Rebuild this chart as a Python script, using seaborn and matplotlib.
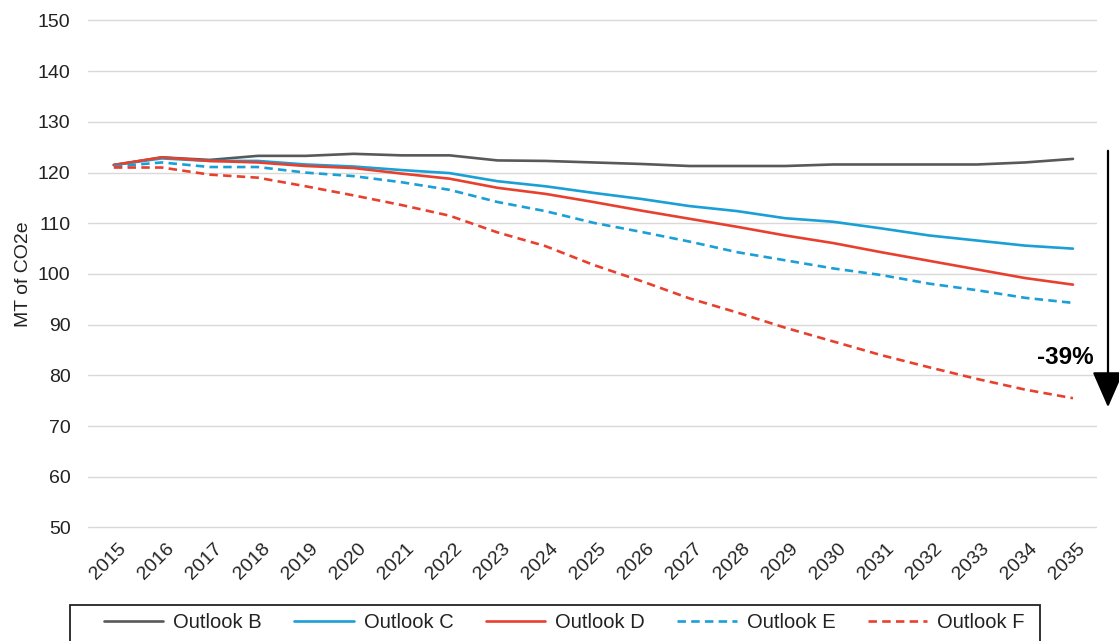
import matplotlib
matplotlib.use("Agg")
import matplotlib.pyplot as plt
import matplotlib.transforms as mtransforms
from matplotlib.patches import Rectangle, FancyArrowPatch
import seaborn as sns
import pandas as pd

years = list(range(2015, 2036))

outlook_b = [121.5, 123.0, 122.5, 123.3, 123.3, 123.7, 123.4, 123.4, 122.4, 122.3, 122.0,
             121.7, 121.3, 121.3, 121.3, 121.6, 121.6, 121.6, 121.6, 122.0, 122.7]
outlook_c = [121.5, 122.8, 122.3, 122.3, 121.6, 121.2, 120.5, 119.9, 118.3, 117.3, 116.0,
             114.8, 113.4, 112.4, 111.0, 110.3, 109.0, 107.6, 106.6, 105.6, 105.0]
outlook_d = [121.5, 123.0, 122.3, 122.0, 121.3, 120.9, 119.8, 118.8, 117.0, 115.8, 114.2,
             112.5, 110.9, 109.3, 107.6, 106.1, 104.3, 102.6, 100.9, 99.2, 97.9]
outlook_e = [121.2, 122.0, 121.1, 121.1, 120.0, 119.3, 118.1, 116.6, 114.2, 112.4, 110.1,
             108.3, 106.4, 104.3, 102.7, 101.1, 99.8, 98.1, 96.8, 95.3, 94.3]
outlook_f = [121.0, 121.0, 119.6, 119.0, 117.3, 115.5, 113.6, 111.5, 108.2, 105.5, 101.8,
             98.6, 95.2, 92.4, 89.4, 86.7, 84.0, 81.6, 79.3, 77.2, 75.5]

series_names = ["Outlook B", "Outlook C", "Outlook D", "Outlook E", "Outlook F"]
series_values = [outlook_b, outlook_c, outlook_d, outlook_e, outlook_f]
reduction_label = "-39%"

df = pd.DataFrame(
    [(y, name, v) for name, vals in zip(series_names, series_values) for y, v in zip(years, vals)],
    columns=["Year", "Outlook", "Value"],
)

gray = "#595959"
blue = "#1a9fd6"
red = "#e8402e"
palette = {"Outlook B": gray, "Outlook C": blue, "Outlook D": red,
           "Outlook E": blue, "Outlook F": red}
dashes = {"Outlook B": "", "Outlook C": "", "Outlook D": "",
          "Outlook E": (3.2, 2.0), "Outlook F": (3.2, 2.0)}

sns.set_theme(style="white")
plt.rcParams["font.family"] = ["Liberation Sans", "DejaVu Sans"]

W, H = 1119, 641
fig = plt.figure(figsize=(W / 100, H / 100), dpi=100)
ax = fig.add_axes([0.0786, 0.1747, 0.9017, 0.7957])

sns.lineplot(data=df, x="Year", y="Value", hue="Outlook", style="Outlook",
             palette=palette, dashes=dashes, linewidth=1.9, ax=ax, legend=True)

ax.set_xlim(2014.46, 2035.5)
ax.set_ylim(49.7, 150.3)
ax.set_yticks(range(50, 151, 10))
ax.set_xticks(years)
ax.set_xticklabels([str(y) for y in years], rotation=45, ha="right",
                   rotation_mode="anchor", fontsize=14, color="#222222")
ax.tick_params(axis="x", pad=8, length=0)
shift = mtransforms.ScaledTranslation(4 / 100, 0, fig.dpi_scale_trans)
for lbl in ax.get_xticklabels():
    lbl.set_transform(lbl.get_transform() + shift)
ax.tick_params(axis="y", labelsize=14, labelcolor="#222222", length=0, pad=12.5)
ax.grid(axis="y", color="#d9d9d9", linewidth=1.0)
ax.set_axisbelow(True)
for s in ax.spines.values():
    s.set_visible(False)
ax.set_xlabel("")
ax.set_ylabel("MT of CO2e", fontsize=14, color="#222222", labelpad=4)

handles, labels = ax.get_legend_handles_labels()
ax.get_legend().remove()
leg = fig.legend(handles, labels, loc="center left",
                 bbox_to_anchor=(104 / W, 1 - 623 / H),
                 ncol=5, frameon=False, fontsize=14.5, handlelength=2.95,
                 columnspacing=1.6, handletextpad=0.5, borderpad=0.0,
                 borderaxespad=0.0)
for t in leg.get_texts():
    t.set_color("#222222")

# Legend box, running off the bottom edge
fig.patches.append(Rectangle((70 / W, -0.02), (1040 - 70) / W, (0.02 + 1 - 605 / H),
                             transform=fig.transFigure, fill=False,
                             edgecolor="#222222", linewidth=1.3))

# Reduction arrow and label on the right edge
fig.patches.append(FancyArrowPatch(
    (1108 / W, 1 - 148 / H), (1108 / W, 1 - 410 / H),
    transform=fig.transFigure, arrowstyle="-|>,head_length=1.6,head_width=0.7",
    mutation_scale=14, color="black", linewidth=1.6))
fig.text(1094 / W, 1 - 357 / H, reduction_label, ha="right", va="center",
         fontsize=17.5, fontweight="bold", color="black")

fig.savefig("out.png", dpi=100, facecolor="white")
